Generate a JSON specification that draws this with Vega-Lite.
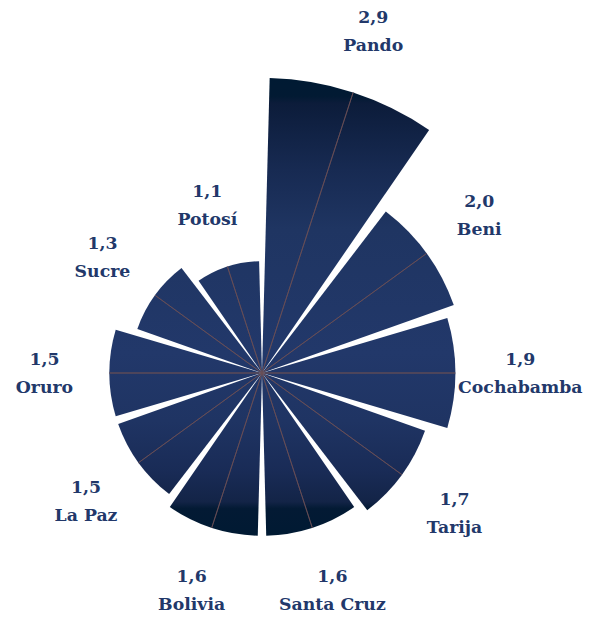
{
  "$schema": "https://vega.github.io/schema/vega-lite/v6.json",
  "width": 524,
  "height": 498,
  "autosize": {"type": "none"},
  "padding": {"left": 0, "top": 124, "right": 67, "bottom": 0},
  "background": "white",
  "config": {"view": {"stroke": null}},
  "data": {
    "values": [
      {"name": "Pando", "value": 2.9},
      {"name": "Beni", "value": 2.0},
      {"name": "Cochabamba", "value": 1.9},
      {"name": "Tarija", "value": 1.7},
      {"name": "Santa Cruz", "value": 1.6},
      {"name": "Bolivia", "value": 1.6},
      {"name": "La Paz", "value": 1.5},
      {"name": "Oruro", "value": 1.5},
      {"name": "Sucre", "value": 1.3},
      {"name": "Potosí", "value": 1.1}
    ]
  },
  "transform": [
    {"window": [{"op": "row_number", "as": "rn"}]},
    {"calculate": "datum.rn - 1", "as": "i0"},
    {"calculate": "datum.rn", "as": "i1"},
    {"calculate": "datum.rn - 0.5", "as": "im"},
    {"calculate": "[replace(format(datum.value, '.1f'), '.', ','), datum.name]", "as": "lbl"}
  ],
  "layer": [
    {
      "encoding": {
        "theta": {"field": "i0", "type": "quantitative", "scale": {"type": "linear", "domain": [0, 10], "range": [0, 6.283185307]}},
        "theta2": {"field": "i1"},
        "radius": {"field": "value", "type": "quantitative", "scale": {"type": "linear", "domain": [0, 2.9], "range": [0, 295], "zero": true}}
      },
      "layer": [
        {"transform": [{"filter": "datum.name === 'Pando'"}], "mark": {"type": "arc", "thetaOffset": 0.026, "theta2Offset": -0.026, "fill": {"gradient": "linear", "x1": 0, "x2": 0, "y1": 0, "y2": 1.5527, "stops": [{"offset": 0, "color": "#001a33"}, {"offset": 0.04, "color": "#021a33"}, {"offset": 0.055, "color": "#0c1c3a"}, {"offset": 0.2, "color": "#172a52"}, {"offset": 0.33, "color": "#1f3562"}, {"offset": 0.6, "color": "#22386a"}, {"offset": 0.75, "color": "#1f3463"}, {"offset": 0.86, "color": "#192b56"}, {"offset": 0.925, "color": "#132447"}, {"offset": 0.94, "color": "#031a34"}, {"offset": 1, "color": "#001a33"}]}}},
        {"transform": [{"filter": "datum.name === 'Beni'"}], "mark": {"type": "arc", "thetaOffset": 0.026, "theta2Offset": -0.026, "fill": {"gradient": "linear", "x1": 0, "x2": 0, "y1": -0.8278, "y2": 2.0099, "stops": [{"offset": 0, "color": "#001a33"}, {"offset": 0.04, "color": "#021a33"}, {"offset": 0.055, "color": "#0c1c3a"}, {"offset": 0.2, "color": "#172a52"}, {"offset": 0.33, "color": "#1f3562"}, {"offset": 0.6, "color": "#22386a"}, {"offset": 0.75, "color": "#1f3463"}, {"offset": 0.86, "color": "#192b56"}, {"offset": 0.925, "color": "#132447"}, {"offset": 0.94, "color": "#031a34"}, {"offset": 1, "color": "#001a33"}]}}},
        {"transform": [{"filter": "datum.name === 'Cochabamba'"}], "mark": {"type": "arc", "thetaOffset": 0.026, "theta2Offset": -0.026, "fill": {"gradient": "linear", "x1": 0, "x2": 0, "y1": -2.1867, "y2": 1.9845, "stops": [{"offset": 0, "color": "#001a33"}, {"offset": 0.04, "color": "#021a33"}, {"offset": 0.055, "color": "#0c1c3a"}, {"offset": 0.2, "color": "#172a52"}, {"offset": 0.33, "color": "#1f3562"}, {"offset": 0.6, "color": "#22386a"}, {"offset": 0.75, "color": "#1f3463"}, {"offset": 0.86, "color": "#192b56"}, {"offset": 0.925, "color": "#132447"}, {"offset": 0.94, "color": "#031a34"}, {"offset": 1, "color": "#001a33"}]}}},
        {"transform": [{"filter": "datum.name === 'Tarija'"}], "mark": {"type": "arc", "thetaOffset": 0.026, "theta2Offset": -0.026, "fill": {"gradient": "linear", "x1": 0, "x2": 0, "y1": -2.1501, "y2": 1.188, "stops": [{"offset": 0, "color": "#001a33"}, {"offset": 0.04, "color": "#021a33"}, {"offset": 0.055, "color": "#0c1c3a"}, {"offset": 0.2, "color": "#172a52"}, {"offset": 0.33, "color": "#1f3562"}, {"offset": 0.6, "color": "#22386a"}, {"offset": 0.75, "color": "#1f3463"}, {"offset": 0.86, "color": "#192b56"}, {"offset": 0.925, "color": "#132447"}, {"offset": 0.94, "color": "#031a34"}, {"offset": 1, "color": "#001a33"}]}}},
        {"transform": [{"filter": "datum.name === 'Santa Cruz' || datum.name === 'Bolivia'"}], "mark": {"type": "arc", "thetaOffset": 0.026, "theta2Offset": -0.026, "fill": {"gradient": "linear", "x1": 0, "x2": 0, "y1": -1.8143, "y2": 1.0025, "stops": [{"offset": 0, "color": "#001a33"}, {"offset": 0.04, "color": "#021a33"}, {"offset": 0.055, "color": "#0c1c3a"}, {"offset": 0.2, "color": "#172a52"}, {"offset": 0.33, "color": "#1f3562"}, {"offset": 0.6, "color": "#22386a"}, {"offset": 0.75, "color": "#1f3463"}, {"offset": 0.86, "color": "#192b56"}, {"offset": 0.925, "color": "#132447"}, {"offset": 0.94, "color": "#031a34"}, {"offset": 1, "color": "#001a33"}]}}},
        {"transform": [{"filter": "datum.name === 'La Paz'"}], "mark": {"type": "arc", "thetaOffset": 0.026, "theta2Offset": -0.026, "fill": {"gradient": "linear", "x1": 0, "x2": 0, "y1": -2.436, "y2": 1.346, "stops": [{"offset": 0, "color": "#001a33"}, {"offset": 0.04, "color": "#021a33"}, {"offset": 0.055, "color": "#0c1c3a"}, {"offset": 0.2, "color": "#172a52"}, {"offset": 0.33, "color": "#1f3562"}, {"offset": 0.6, "color": "#22386a"}, {"offset": 0.75, "color": "#1f3463"}, {"offset": 0.86, "color": "#192b56"}, {"offset": 0.925, "color": "#132447"}, {"offset": 0.94, "color": "#031a34"}, {"offset": 1, "color": "#001a33"}]}}},
        {"transform": [{"filter": "datum.name === 'Oruro'"}], "mark": {"type": "arc", "thetaOffset": 0.026, "theta2Offset": -0.026, "fill": {"gradient": "linear", "x1": 0, "x2": 0, "y1": -2.9065, "y2": 2.3822, "stops": [{"offset": 0, "color": "#001a33"}, {"offset": 0.04, "color": "#021a33"}, {"offset": 0.055, "color": "#0c1c3a"}, {"offset": 0.2, "color": "#172a52"}, {"offset": 0.33, "color": "#1f3562"}, {"offset": 0.6, "color": "#22386a"}, {"offset": 0.75, "color": "#1f3463"}, {"offset": 0.86, "color": "#192b56"}, {"offset": 0.925, "color": "#132447"}, {"offset": 0.94, "color": "#031a34"}, {"offset": 1, "color": "#001a33"}]}}},
        {"transform": [{"filter": "datum.name === 'Sucre'"}], "mark": {"type": "arc", "thetaOffset": 0.026, "theta2Offset": -0.026, "fill": {"gradient": "linear", "x1": 0, "x2": 0, "y1": -1.8122, "y2": 2.5538, "stops": [{"offset": 0, "color": "#001a33"}, {"offset": 0.04, "color": "#021a33"}, {"offset": 0.055, "color": "#0c1c3a"}, {"offset": 0.2, "color": "#172a52"}, {"offset": 0.33, "color": "#1f3562"}, {"offset": 0.6, "color": "#22386a"}, {"offset": 0.75, "color": "#1f3463"}, {"offset": 0.86, "color": "#192b56"}, {"offset": 0.925, "color": "#132447"}, {"offset": 0.94, "color": "#031a34"}, {"offset": 1, "color": "#001a33"}]}}},
        {"transform": [{"filter": "datum.name === 'Potosí'"}], "mark": {"type": "arc", "thetaOffset": 0.026, "theta2Offset": -0.026, "fill": {"gradient": "linear", "x1": 0, "x2": 0, "y1": -1.6363, "y2": 2.4567, "stops": [{"offset": 0, "color": "#001a33"}, {"offset": 0.04, "color": "#021a33"}, {"offset": 0.055, "color": "#0c1c3a"}, {"offset": 0.2, "color": "#172a52"}, {"offset": 0.33, "color": "#1f3562"}, {"offset": 0.6, "color": "#22386a"}, {"offset": 0.75, "color": "#1f3463"}, {"offset": 0.86, "color": "#192b56"}, {"offset": 0.925, "color": "#132447"}, {"offset": 0.94, "color": "#031a34"}, {"offset": 1, "color": "#001a33"}]}}},
        {
          "mark": {"type": "arc", "fill": null, "stroke": "#6a4f55", "strokeWidth": 0.9, "strokeOpacity": 0.85},
          "encoding": {
            "theta": {"field": "im", "type": "quantitative"},
            "theta2": {"field": "im"}
          }
        }
      ]
    },
    {
      "mark": {"type": "text", "radiusOffset": 65, "dy": -13, "align": "center", "baseline": "middle", "font": "DejaVu Serif", "fontWeight": "bold", "fontSize": 17.3, "lineHeight": 28, "fill": "#22386a"},
      "encoding": {
        "theta": {"field": "im", "type": "quantitative"},
        "radius": {"field": "value", "type": "quantitative"},
        "text": {"field": "lbl"}
      }
    }
  ]
}
